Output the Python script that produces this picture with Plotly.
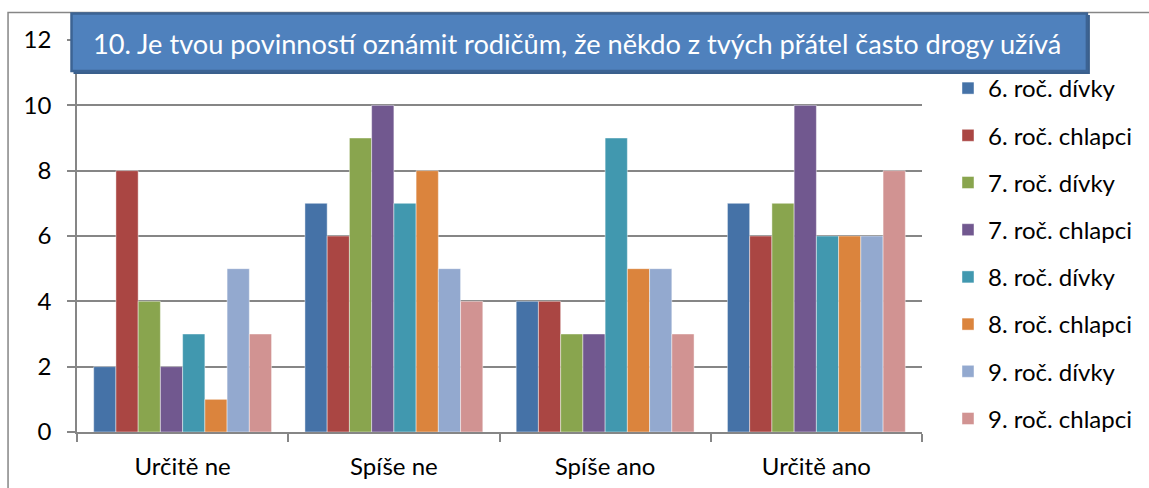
import plotly.graph_objects as go

categories = ["Určitě ne", "Spíše ne", "Spíše ano", "Určitě ano"]
series_names = ["6. roč. dívky", "6. roč. chlapci", "7. roč. dívky", "7. roč. chlapci",
                "8. roč. dívky", "8. roč. chlapci", "9. roč. dívky", "9. roč. chlapci"]
s6_divky = [2, 7, 4, 7]
s6_chlapci = [8, 6, 4, 6]
s7_divky = [4, 9, 3, 7]
s7_chlapci = [2, 10, 3, 10]
s8_divky = [3, 7, 9, 6]
s8_chlapci = [1, 8, 5, 6]
s9_divky = [5, 5, 5, 6]
s9_chlapci = [3, 4, 3, 8]
y_ticks = [0, 2, 4, 6, 8, 10, 12]
title_text = "10. Je tvou povinností oznámit rodičům, že někdo z tvých přátel často drogy užívá"

series_values = [s6_divky, s6_chlapci, s7_divky, s7_chlapci,
                 s8_divky, s8_chlapci, s9_divky, s9_chlapci]
colors = ["#4572A7", "#AA4643", "#89A54E", "#71588F",
          "#4198AF", "#DB843D", "#93A9CF", "#D19392"]

W, H = 1149, 488
L, R, T, B = 76.5, 922, 40, 432

def px(x):
    return (x - L) / (R - L)

def py(y):
    return (B - y) / (B - T)

fig = go.Figure()
for i, (name, vals) in enumerate(zip(series_names, series_values)):
    fig.add_trace(go.Bar(
        x=categories, y=vals, name=name,
        marker=dict(color=colors[i], line=dict(color="rgba(255,255,255,0.55)", width=0.8)),
        legendgroup=f"g{i}",
    ))

font_family = "Lato, 'Open Sans', sans-serif"

fig.update_layout(
    width=W, height=H,
    margin=dict(l=L, r=W - R, t=T, b=H - B, autoexpand=False),
    paper_bgcolor="white", plot_bgcolor="white",
    barmode="group", bargap=0.158, bargroupgap=0,
    font=dict(family=font_family, size=24, color="black"),
    showlegend=True,
    legend=dict(x=px(948), xanchor="left", y=py(66), yanchor="top",
                font=dict(size=24, color="black"), tracegroupgap=13,
                itemwidth=30, bgcolor="rgba(0,0,0,0)", borderwidth=0),
    xaxis=dict(type="category", showline=True, linecolor="#868686", linewidth=1.5,
               ticks="outside", ticklen=8, tickcolor="#868686", tickwidth=1.5,
               tickson="boundaries", showgrid=False, tickfont=dict(size=24),
               ticklabelstandoff=12, fixedrange=True),
    yaxis=dict(range=[0, 12], tickvals=y_ticks, showline=True, linecolor="#868686",
               linewidth=1.5, ticks="outside", ticklen=8, tickcolor="#868686",
               tickwidth=1.5, showgrid=True, gridcolor="#868686", gridwidth=1.5,
               zeroline=False, tickfont=dict(size=24), ticklabelstandoff=11,
               fixedrange=True),
)

# outer chart border (cropped)
fig.add_shape(type="path", xref="paper", yref="paper",
              path=f"M {px(7.5)},{py(500)} L {px(7.5)},{py(12.5)} L {px(1160)},{py(12.5)}",
              line=dict(color="#868686", width=1.5), layer="above")

# title box shadow and box
fig.add_shape(type="rect", xref="paper", yref="paper",
              x0=px(73), x1=px(1090), y0=py(74), y1=py(15),
              fillcolor="#3A5F8C", line=dict(width=0), layer="above")
fig.add_shape(type="rect", xref="paper", yref="paper",
              x0=px(71), x1=px(1087), y0=py(71), y1=py(13.5),
              fillcolor="#4F81BD", line=dict(color="#3C6393", width=2.5), layer="above")
fig.add_annotation(xref="paper", yref="paper", x=px(577), y=py(43),
                   text=title_text, showarrow=False,
                   font=dict(family=font_family, size=27.2, color="white"),
                   xanchor="center", yanchor="middle")

fig.write_html("out.html", config={"displayModeBar": False},
               post_script="document.body.style.margin='0px';")
